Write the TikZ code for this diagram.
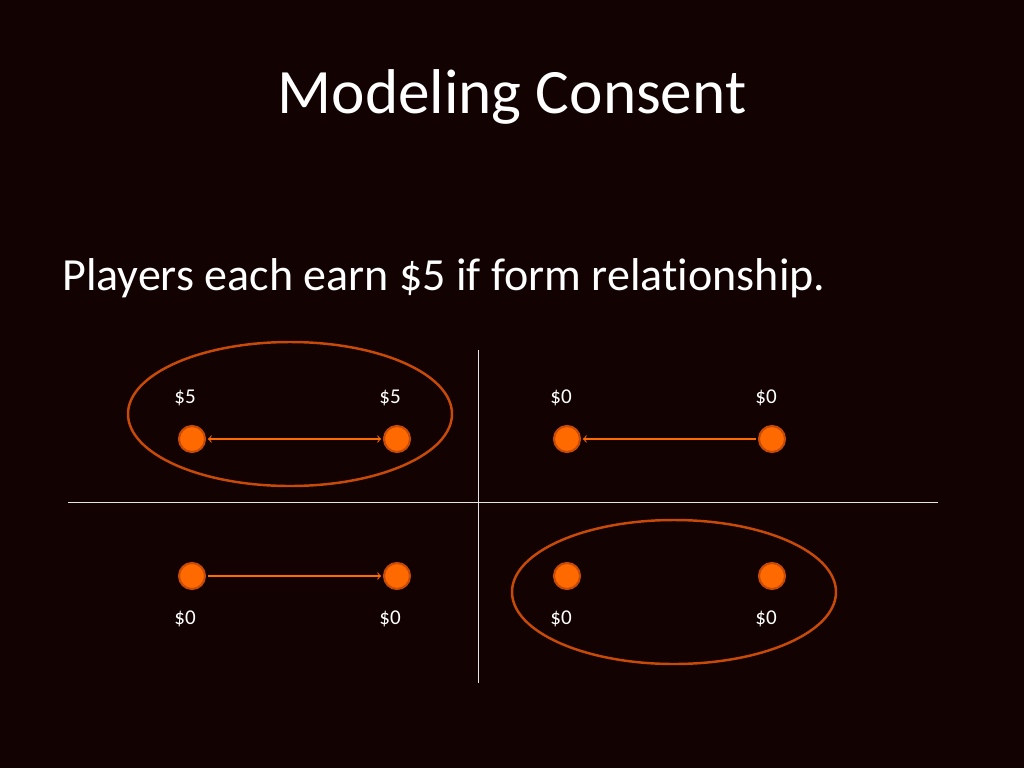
\documentclass[tikz,border=0pt]{standalone}
\usepackage{fontspec}
\setmainfont[Ligatures=NoCommon]{Carlito}
\usetikzlibrary{arrows}
\definecolor{bgdark}{HTML}{120202}
\definecolor{dotfill}{HTML}{FF6A00}
\definecolor{dotedge}{HTML}{C84A08}
\begin{document}
\begin{tikzpicture}[x=0.02cm, y=-0.02cm]
	\tikzstyle{player}  = [circle, minimum size=0.52cm, inner sep=0pt, draw=dotedge, line width=1.2pt, fill=dotfill]
	\tikzstyle{payoff}  = [text=white, font=\fontsize{12}{14}\selectfont]
	\tikzstyle{link}    = [draw=dotfill, line width=0.6pt, shorten >=1pt, shorten <=1pt]
	\tikzstyle{group}   = [draw=dotedge, line width=1.4pt]
	\tikzstyle{axis}    = [draw=white!90!black, line width=0.5pt]

	\fill[bgdark] (0,0) rectangle (1024,768);
	\useasboundingbox (0,0) rectangle (1024,768);

	\node[text=white, font=\fontsize{36}{40}\selectfont] (title) at (512,97) {Modeling Consent};
	\node[text=white, font=\fontsize{26.2}{30}\selectfont, anchor=west] (rule) at (56,278) {Players each earn \$5 if form relationship.};

	\coordinate (vtop) at (478,350);
	\coordinate (vbot) at (478,683);
	\coordinate (hleft) at (68,502);
	\coordinate (hright) at (938,502);
	\draw[axis] (vtop) -- (vbot);
	\draw[axis] (hleft) -- (hright);

	\foreach \name/\x/\y in {a1/192/439, a2/397/439, b1/567/439, b2/772/439, c1/192/576, c2/397/576, d1/567/576, d2/772/576}
		\node[player] (\name) at (\x, \y) {};

	\foreach \name/\x/\y/\val in {la1/185/398/5, la2/390/398/5, lb1/561/398/0, lb2/766/398/0, lc1/185/619/0, lc2/390/619/0, ld1/561/619/0, ld2/766/619/0}
		\node[payoff] (\name) at (\x, \y) {\$\val};

	\draw[link, to-to] (a1) -- (a2);
	\draw[link, -to] (b2) -- (b1);
	\draw[link, -to] (c1) -- (c2);

	\draw[group] (290,414) ellipse (162 and 72);
	\draw[group] (674,592) ellipse (162 and 72);
\end{tikzpicture}
\end{document}
